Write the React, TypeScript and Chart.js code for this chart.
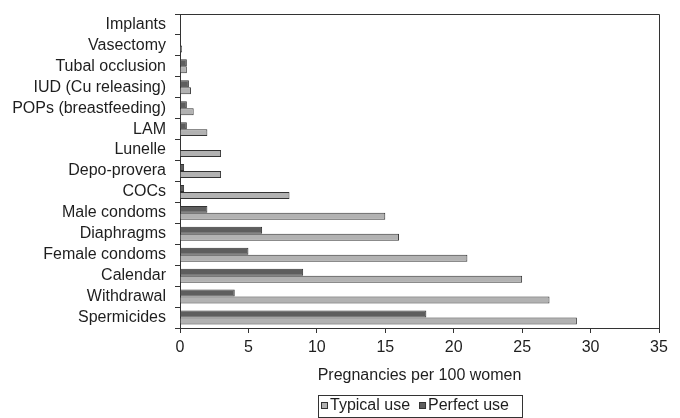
import React, { useEffect, useRef } from "react";
import { Chart, registerables } from "chart.js";

Chart.register(...registerables);

const methods = [
  "Implants",
  "Vasectomy",
  "Tubal occlusion",
  "IUD (Cu releasing)",
  "POPs (breastfeeding)",
  "LAM",
  "Lunelle",
  "Depo-provera",
  "COCs",
  "Male condoms",
  "Diaphragms",
  "Female condoms",
  "Calendar",
  "Withdrawal",
  "Spermicides",
];

const perfectUse = [0, 0, 0.5, 0.65, 0.5, 0.5, 0, 0.3, 0.3, 2, 6, 5, 9, 4, 18];
const typicalUse = [0, 0.15, 0.5, 0.8, 1, 2, 3, 3, 8, 15, 16, 21, 25, 27, 29];

const xTicks = [0, 5, 10, 15, 20, 25, 30, 35];
const xTitle = "Pregnancies per 100 women";
const legendLabels = ["Typical use", "Perfect use"];

const TYPICAL_COLOR = "#b2b2b2";
const PERFECT_COLOR = "#5e5e5e";
const LINE = "#333333";
const TEXT = "#1e1e1e";
const FONT = "Liberation Sans, Arial, sans-serif";

const decorPlugin = {
  id: "decor",
  afterDraw(chart: any) {
    const { ctx, chartArea } = chart;
    ctx.save();
    ctx.strokeStyle = LINE;
    ctx.lineWidth = 1;
    ctx.beginPath();
    ctx.moveTo(Math.round(chartArea.left) + 0.5, Math.round(chartArea.top) + 0.5);
    ctx.lineTo(Math.round(chartArea.right) + 0.5, Math.round(chartArea.top) + 0.5);
    ctx.lineTo(Math.round(chartArea.right) + 0.5, Math.round(chartArea.bottom) + 0.5);
    ctx.stroke();

    // axis title
    ctx.fillStyle = TEXT;
    ctx.font = `16px ${FONT}`;
    ctx.textAlign = "center";
    ctx.textBaseline = "middle";
    const cx = (chartArea.left + chartArea.right) / 2;
    ctx.fillText(xTitle, cx, 376);

    // legend
    ctx.textAlign = "left";
    const box = 6;
    const gap = 3;
    const itemGap = 9;
    const widths = legendLabels.map((l) => ctx.measureText(l).width);
    const total = widths.reduce((a, w) => a + box + gap + w, 0) + itemGap * (legendLabels.length - 1) + 16;
    const lx = Math.round(cx - total / 2);
    const ly = 395;
    const lh = 22;
    ctx.strokeStyle = LINE;
    ctx.strokeRect(lx + 0.5, ly + 0.5, Math.round(total), lh);
    let x = lx + 3;
    const colors = [TYPICAL_COLOR, PERFECT_COLOR];
    legendLabels.forEach((l, i) => {
      ctx.fillStyle = colors[i];
      ctx.fillRect(x + 0.5, ly + 7.5, box, box);
      ctx.strokeStyle = LINE;
      ctx.strokeRect(x + 0.5, ly + 7.5, box, box);
      ctx.fillStyle = TEXT;
      ctx.fillText(l, x + box + gap, ly + 11);
      x += box + gap + widths[i] + itemGap;
    });
    ctx.restore();
  },
};

export default function App() {
  const ref = useRef<HTMLCanvasElement | null>(null);

  useEffect(() => {
    document.body.style.margin = "0";
    const canvas = ref.current;
    if (!canvas) return;
    const chart = new Chart(canvas, {
      type: "bar",
      data: {
        labels: methods,
        datasets: [
          {
            label: legendLabels[1],
            data: perfectUse,
            backgroundColor: PERFECT_COLOR,
            borderColor: LINE,
            borderWidth: 1,
            borderSkipped: "start",
          },
          {
            label: legendLabels[0],
            data: typicalUse,
            backgroundColor: TYPICAL_COLOR,
            borderColor: LINE,
            borderWidth: 1,
            borderSkipped: "start",
          },
        ],
      },
      options: {
        indexAxis: "y",
        responsive: false,
        animation: false,
        devicePixelRatio: 1,
        datasets: { bar: { categoryPercentage: 0.667, barPercentage: 1 } },
        layout: { padding: { top: 14, right: 21, left: 0, bottom: 0 } },
        plugins: {
          legend: { display: false },
          tooltip: { enabled: false },
        },
        scales: {
          x: {
            min: 0,
            max: 35,
            afterFit: (s: any) => {
              s.height = 90;
              s.paddingLeft = 0;
              s.paddingRight = 0;
            },
            afterBuildTicks: (s: any) => {
              s.ticks = xTicks.map((v) => ({ value: v }));
            },
            ticks: {
              color: TEXT,
              font: { family: FONT, size: 16 },
              padding: 5,
              maxRotation: 0,
            },
            grid: {
              drawOnChartArea: false,
              drawTicks: true,
              tickLength: 5,
              color: LINE,
            },
            border: { display: true, color: LINE },
          },
          y: {
            afterFit: (s: any) => {
              s.width = 180;
              s.paddingTop = 0;
              s.paddingBottom = 0;
            },
            ticks: {
              color: TEXT,
              font: { family: FONT, size: 16 },
              padding: 9,
              autoSkip: false,
            },
            grid: {
              drawOnChartArea: false,
              drawTicks: true,
              tickLength: 5,
              color: LINE,
              offset: true,
            },
            border: { display: true, color: LINE },
          },
        },
      },
      plugins: [decorPlugin],
    } as any);
    return () => chart.destroy();
  }, []);

  return (
    <div style={{ position: "absolute", left: 0, top: 0, width: 680, height: 418, background: "#fff" }}>
      <canvas ref={ref} width={680} height={418} style={{ display: "block" }} />
    </div>
  );
}
